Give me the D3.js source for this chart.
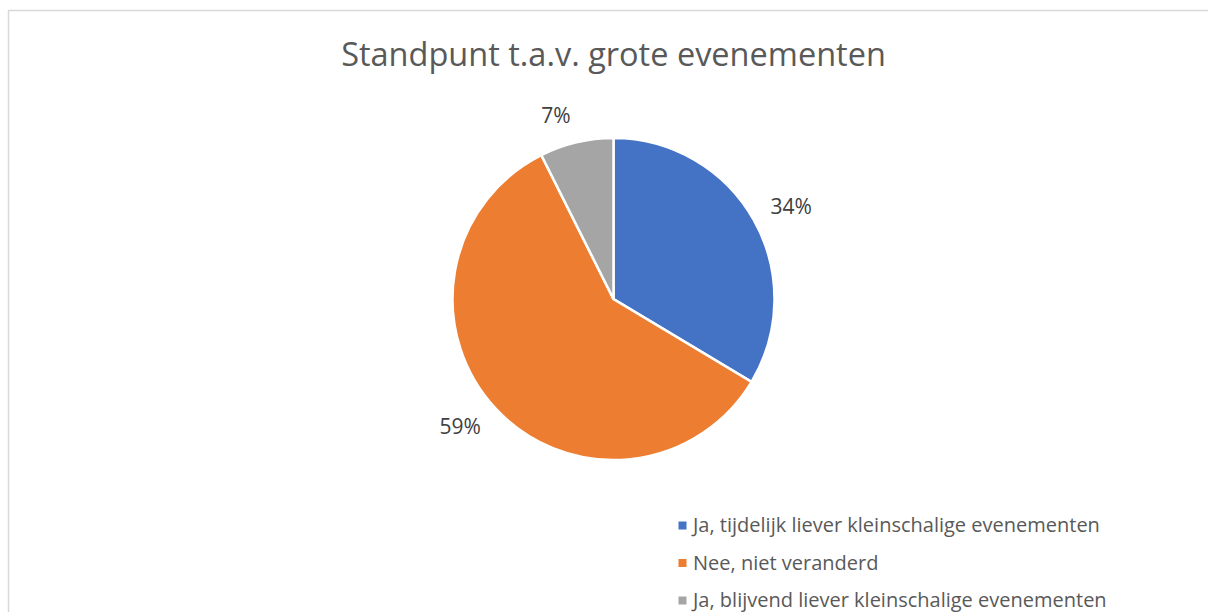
<!DOCTYPE html>
<html>
<head>
<meta charset="utf-8">
<script src="https://cdn.jsdelivr.net/npm/d3@7"></script>
<style>
  body { margin: 0; background: #fff; }
  text { font-family: "Open Sans", sans-serif; }
</style>
</head>
<body>
<svg id="chart" width="1208" height="612"></svg>
<script>
const categories = [
  "Ja, tijdelijk liever kleinschalige evenementen",
  "Nee, niet veranderd",
  "Ja, blijvend liever kleinschalige evenementen"
];
const values = [33.6, 59.0, 7.4];
const colors = ["#4472C4", "#ED7D31", "#A5A5A5"];
const title = "Standpunt t.a.v. grote evenementen";

const svg = d3.select("#chart");
const cx = 613.5, cy = 299, r = 161;

// chart border
svg.append("rect")
  .attr("x", 8.5).attr("y", 10.5)
  .attr("width", 1220).attr("height", 620)
  .attr("fill", "none").attr("stroke", "#d9d9d9").attr("stroke-width", 1.5);

svg.append("text")
  .attr("x", cx).attr("y", 66)
  .attr("text-anchor", "middle")
  .attr("font-size", 32.5)
  .attr("fill", "#595959")
  .text(title);

const total = d3.sum(values);
const pie = d3.pie().sort(null).value(d => d);
const arcs = pie(values);
const arc = d3.arc().innerRadius(0).outerRadius(r);

const g = svg.append("g").attr("transform", `translate(${cx},${cy})`);

g.selectAll("path").data(arcs).enter().append("path")
  .attr("d", arc)
  .attr("fill", (d, i) => colors[i])
  .attr("stroke", "#fff")
  .attr("stroke-width", 2.5);

// labels outside end, pushed out by half their width
const labelR = r + 17;
g.selectAll("text.lbl").data(arcs).enter().append("text")
  .attr("class", "lbl")
  .attr("text-anchor", "middle")
  .attr("dy", "0.35em")
  .attr("font-size", 21)
  .attr("fill", "#404040")
  .text(d => Math.round(d.data / total * 100) + "%")
  .each(function (d) {
    const a = (d.startAngle + d.endAngle) / 2;
    const hw = this.getComputedTextLength() / 2 + 2;
    const x = Math.sin(a) * labelR + Math.sign(Math.sin(a)) * hw;
    const y = -Math.cos(a) * labelR - Math.cos(a) * 10;
    d3.select(this).attr("x", x).attr("y", y);
  });

const legend = svg.append("g").attr("transform", "translate(678.5,525.5)");
const rows = legend.selectAll("g").data(categories).enter().append("g")
  .attr("transform", (d, i) => `translate(0,${i * 37.5})`);
rows.append("rect")
  .attr("x", 0).attr("y", -4)
  .attr("width", 8).attr("height", 8)
  .attr("fill", (d, i) => colors[i]);
rows.append("text")
  .attr("x", 14.5).attr("y", 6.8)
  .attr("font-size", 20)
  .attr("fill", "#595959")
  .text(d => d);
</script>
</body>
</html>
